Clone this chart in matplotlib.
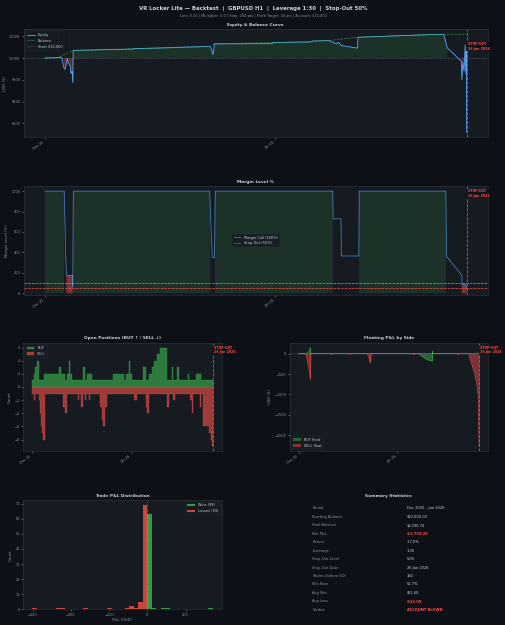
import matplotlib.pyplot as plt
import matplotlib.dates as mdates
import numpy as np
import pandas as pd

BG = '#0d1117'
PANEL = '#161b22'
EDGE = '#30363d'
TEXT = '#c9d1d9'
MUTED = '#8b949e'
BLUE = '#58a6ff'
GREEN = '#3fb950'
RED = '#f85149'
YELLOW = '#d29922'

START = pd.Timestamp('2025-12-01 00:00')
STOP_OUT = pd.Timestamp('2026-01-26 17:00')
START_BALANCE = 10000

# equity / balance (days since 1 Dec 2025, USD)
equity_days = [0, 1.35, 1.75, 2.0, 2.3, 2.55, 2.7, 2.9, 3.0, 3.15, 3.4, 3.5, 3.65, 3.77, 3.8,
               10.1, 10.15, 11.9, 11.95, 17.5, 17.55, 22.2, 22.4, 22.6, 22.8, 30.6, 30.7,
               35.7, 36.0, 37.3, 38.1, 38.4, 39.1, 39.5, 39.8, 42.0, 42.1, 45.8, 50.5, 53.6,
               54.1, 56.0, 56.05, 56.2, 56.35, 56.5, 56.6, 56.65, 56.7]
equity_usd = [10000, 10005, 10010, 10015, 10000, 9780, 9740, 9880, 9990, 9900, 9820, 9650, 9700, 9430, 10175,
              10200, 10200, 10205, 10215, 10240, 10245, 10265, 10200, 10075, 10325, 10330, 10355,
              10370, 10390, 10395, 10400, 10385, 10330, 10360, 10290, 10227, 10477, 10500, 10530, 10545,
              10230, 9925, 9500, 9900, 9700, 10300, 9650, 10150, 8296.74]
balance_days = [0, 1.75, 3.8, 10.1, 11.9, 17.5, 22.2, 22.8, 30.7, 35.7, 36.0, 38.1, 42.1, 45.8, 50.5, 53.6, 56.7]
balance_usd = [10000, 10010, 10175, 10200, 10215, 10240, 10265, 10325, 10355, 10370, 10390, 10400, 10477, 10500,
               10530, 10545, 10545]

# margin level % (capped at 1000 when flat)
margin_days = [0, 2.6, 2.8, 2.9, 3.7, 3.75, 3.82, 22.15, 22.3, 22.5, 22.8, 22.9, 38.7, 38.75, 39.8, 39.85,
               42.2, 42.25, 53.9, 54.0, 56.05, 56.08, 56.6, 56.7]
margin_pct = [1000, 1000, 360, 175, 175, 65, 1000, 1000, 710, 350, 350, 1000, 1000, 728, 728, 365,
              365, 1000, 1000, 360, 175, 85, 85, 45]

# open positions per side
buy_days = [0, 0.42, 0.85, 1.38, 2.0, 3.7, 8.25, 8.9, 10.4, 11.0, 11.5, 11.85, 12.5, 16.1, 16.6, 17.35, 18.8,
            25.4, 28.8, 29.6, 30.4, 30.7, 31.2, 34.9, 35.7, 36.7, 37.6, 38.3, 39.2, 40.0, 42.3, 43.8, 44.2,
            45.5, 46.0, 49.1, 49.4, 51.6, 52.9, 56.7]
buy_count = [1, 2, 3, 4, 1, 2, 3, 2, 1, 2, 4, 2, 1, 3, 1, 2, 1,
             2, 1, 2, 4, 2, 1, 3, 1, 2, 3, 4, 5, 6, 1, 3, 1,
             3, 1, 2, 1, 2, 1, 1]
sell_days = [0, 0.42, 0.75, 2.1, 2.45, 2.75, 2.95, 3.3, 3.9, 9.7, 10.4, 10.8, 14.5, 14.8, 15.45, 15.8, 16.6,
             16.9, 17.7, 18.0, 21.4, 21.9, 22.3, 22.85, 23.5, 31.95, 33.0, 35.8, 36.2, 36.7, 42.5, 42.85,
             44.3, 44.9, 49.7, 50.3, 50.6, 52.8, 53.1, 53.75, 55.5, 56.3, 56.55, 56.7]
sell_count = [-1, -2, -1, -2, -4, -6, -7, -8, -1, -3, -4, -1, -2, -1, -3, -1, -2,
              -1, -2, -1, -3, -5, -6, -3, -1, -2, -1, -3, -4, -1, -3, -1,
              -2, -1, -2, -4, -1, -3, -1, -6, -7, -8, -9, -9]

# floating P&L per side
buy_float_days = [0, 2.4, 3.0, 3.7, 3.8, 22.0, 22.3, 22.8, 37.6, 38.5, 39.5, 40.5, 42.0, 42.05, 42.1, 53.6, 56.7]
buy_float_usd = [0, 10, 40, 150, 0, 0, 15, 0, 0, -40, -100, -150, -180, 60, 0, 0, 20]
sell_float_days = [0, 2.2, 2.5, 2.9, 3.3, 3.7, 3.8, 10.0, 10.3, 10.5, 16.0, 16.3, 16.5, 21.5, 22.0, 22.5, 22.8,
                   36.0, 36.3, 36.5, 49.8, 50.1, 50.4, 53.5, 54.2, 55.0, 55.6, 56.0, 56.4, 56.6, 56.7]
sell_float_usd = [0, 0, -80, -250, -420, -640, 0, 0, -20, 0, 0, -15, 0, 0, -80, -230, 0,
                  0, -25, 0, 0, -20, 0, 0, -220, -400, -580, -740, -1020, -1500, -2270]

# trade P&L histogram (bin start, count)
BIN_W = 23.6
loss_bins = [-602, -478, -455, -336, -210, -118, -94, -71, -47, -24]
loss_counts = [1, 1, 1, 1, 1, 1, 2, 1, 5, 69]
win_bins = [0, 24, 71, 94, 318]
win_counts = [63, 1, 1, 1, 1]
n_wins, n_losses = 99, 93

summary_labels = ['Period', 'Starting Balance', 'Final Balance', 'Net P&L', 'Return', 'Leverage',
                  'Stop-Out Level', 'Stop-Out Date', 'Trades (before SO)', 'Win Rate', 'Avg Win',
                  'Avg Loss', 'Verdict']
summary_values = ['Dec 2025 – Jan 2026', '$10,000.00', '$8,296.74', '$-1,703.26', '-17.0%', '1:30',
                  '50%', '26 Jan 2026', '192', '51.7%', '$11.60', '$-32.09', 'ACCOUNT BLOWN']
summary_red = ['Net P&L', 'Avg Loss', 'Verdict']


def to_dates(days):
    return START + pd.to_timedelta(np.asarray(days, dtype=float), unit='D')


def style(ax, title):
    ax.set_facecolor(PANEL)
    for s in ax.spines.values():
        s.set_color(EDGE)
        s.set_linewidth(0.4)
    ax.tick_params(colors=MUTED, labelsize=2.5, length=1.5, width=0.4, pad=1)
    ax.set_title(title, color=TEXT, fontsize=3.1, fontweight='bold', pad=2.5)


def date_axis(ax):
    ax.xaxis.set_major_locator(mdates.MonthLocator())
    ax.xaxis.set_major_formatter(mdates.DateFormatter('%b %y'))
    for lbl in ax.get_xticklabels():
        lbl.set_rotation(35)
        lbl.set_ha('right')


def stop_out(ax, yfrac=0.97):
    ax.axvline(STOP_OUT, color=RED, linestyle='--', linewidth=0.6, alpha=0.9)
    ax.text(STOP_OUT, yfrac, ' STOP-OUT\n 26 Jan 2026', transform=ax.get_xaxis_transform(),
            color=RED, fontsize=2.3, fontweight='bold', va='top', ha='left', linespacing=1.1,
            bbox=dict(facecolor=BG, edgecolor='none', pad=0.3, alpha=0.8))


def legend(ax, **kw):
    lg = ax.legend(fontsize=2.5, facecolor=PANEL, edgecolor=EDGE, labelcolor=TEXT,
                   handlelength=2.2, borderpad=0.5, **kw)
    lg.get_frame().set_linewidth(0.3)


fig = plt.figure(figsize=(5.06, 6.25), dpi=100, facecolor=BG)
fig.text(0.5, 0.991, 'VR Locker Lite — Backtest  |  GBPUSD H1  |  Leverage 1:30  |  Stop-Out 50%',
         ha='center', va='top', color=TEXT, fontsize=3.9, fontweight='bold')
fig.text(0.5, 0.9775, 'Lots: 0.01 | Multiplier: 2.0 | Step: 200 pts | Profit Target: 30 pts | Account: $10,000',
         ha='center', va='top', color=MUTED, fontsize=2.5)

# equity & balance
ax1 = fig.add_axes([0.047, 0.7805, 0.917, 0.1725])
style(ax1, 'Equity & Balance Curve')
eq_d = to_dates(equity_days)
eq = np.array(equity_usd)
ax1.fill_between(eq_d, eq, START_BALANCE, where=eq >= START_BALANCE, color=GREEN, alpha=0.15, linewidth=0)
ax1.fill_between(eq_d, eq, START_BALANCE, where=eq < START_BALANCE, color=RED, alpha=0.3, linewidth=0)
ax1.plot(eq_d, eq, color=BLUE, linewidth=0.6, label='Equity')
ax1.plot(to_dates(balance_days), balance_usd, color=GREEN, linestyle='--', linewidth=0.5, alpha=0.7, label='Balance')
ax1.axhline(START_BALANCE, color=MUTED, linestyle=':', linewidth=0.5, alpha=0.7, label='Start $10,000')
ax1.set_ylabel('USD ($)', color=MUTED, fontsize=2.8, labelpad=2)
date_axis(ax1)
stop_out(ax1, 0.88)
legend(ax1, loc='upper left')

# margin level
ax2 = fig.add_axes([0.047, 0.528, 0.917, 0.1744])
style(ax2, 'Margin Level %')
m_d = to_dates(margin_days)
m = np.array(margin_pct)
ax2.fill_between(m_d, m, 0, where=m >= 1000, color=GREEN, alpha=0.15, linewidth=0)
ax2.fill_between(m_d, m, 0, where=m < 200, color=RED, alpha=0.45, linewidth=0)
ax2.plot(m_d, m, color=BLUE, linewidth=0.5, alpha=0.8)
ax2.axhline(100, color=YELLOW, linestyle='--', linewidth=0.5, label='Margin Call (100%)')
ax2.axhline(50, color=RED, linestyle='--', linewidth=0.5, label='Stop-Out (50%)')
ax2.set_ylim(-17, 1050)
ax2.set_ylabel('Margin Level (%)', color=MUTED, fontsize=2.8, labelpad=2)
date_axis(ax2)
stop_out(ax2)
legend(ax2, loc='center')

# open positions
ax3 = fig.add_axes([0.046, 0.2784, 0.392, 0.1733])
style(ax3, 'Open Positions (BUY ↑ / SELL ↓)')
ax3.fill_between(to_dates(buy_days), buy_count, 0, step='post', color=GREEN, alpha=0.6, linewidth=0.3, label='BUY')
ax3.fill_between(to_dates(sell_days), sell_count, 0, step='post', color=RED, alpha=0.6, linewidth=0.3, label='SELL')
ax3.set_ylabel('Count', color=MUTED, fontsize=2.8, labelpad=2)
date_axis(ax3)
stop_out(ax3)
legend(ax3, loc='upper left')

# floating P&L
ax4 = fig.add_axes([0.5725, 0.2784, 0.392, 0.1733])
style(ax4, 'Floating P&L by Side')
bf_d = to_dates(buy_float_days)
sf_d = to_dates(sell_float_days)
ax4.fill_between(bf_d, buy_float_usd, 0, color=GREEN, alpha=0.45, linewidth=0, label='BUY float')
ax4.plot(bf_d, buy_float_usd, color=GREEN, linewidth=0.4)
ax4.fill_between(sf_d, sell_float_usd, 0, color=RED, alpha=0.45, linewidth=0, label='SELL float')
ax4.plot(sf_d, sell_float_usd, color=RED, linewidth=0.4)
ax4.axhline(0, color=MUTED, linewidth=0.3, alpha=0.6)
ax4.set_ylabel('USD ($)', color=MUTED, fontsize=2.8, labelpad=2)
date_axis(ax4)
stop_out(ax4)
legend(ax4, loc='lower left')

# trade P&L distribution
ax5 = fig.add_axes([0.046, 0.0251, 0.392, 0.1749])
style(ax5, 'Trade P&L Distribution')
ax5.bar(win_bins, win_counts, width=BIN_W, align='edge', color=GREEN, alpha=0.8, label=f'Wins ({n_wins})')
ax5.bar(loss_bins, loss_counts, width=BIN_W, align='edge', color=RED, alpha=0.8, label=f'Losses ({n_losses})')
ax5.axvline(0, color='white', linestyle=':', linewidth=0.5, alpha=0.6)
ax5.set_xlabel('P&L (USD)', color=MUTED, fontsize=2.8, labelpad=1)
ax5.set_ylabel('Count', color=MUTED, fontsize=2.8, labelpad=2)
legend(ax5, loc='upper right')

# summary table
ax6 = fig.add_axes([0.5725, 0.0251, 0.392, 0.1749])
ax6.set_facecolor(BG)
ax6.axis('off')
ax6.set_title('Summary Statistics', color=TEXT, fontsize=3.1, fontweight='bold', pad=2.5)
for i, (lab, val) in enumerate(zip(summary_labels, summary_values)):
    y = 0.925 - i * 0.0775
    ax6.text(0.115, y, lab, color=MUTED, fontsize=2.6, va='center', transform=ax6.transAxes)
    red = lab in summary_red
    ax6.text(0.59, y, val, color=RED if red else TEXT, fontsize=2.6, va='center',
             fontweight='bold' if red else 'normal', transform=ax6.transAxes)

fig.savefig('out.png', dpi=100, facecolor=BG)
